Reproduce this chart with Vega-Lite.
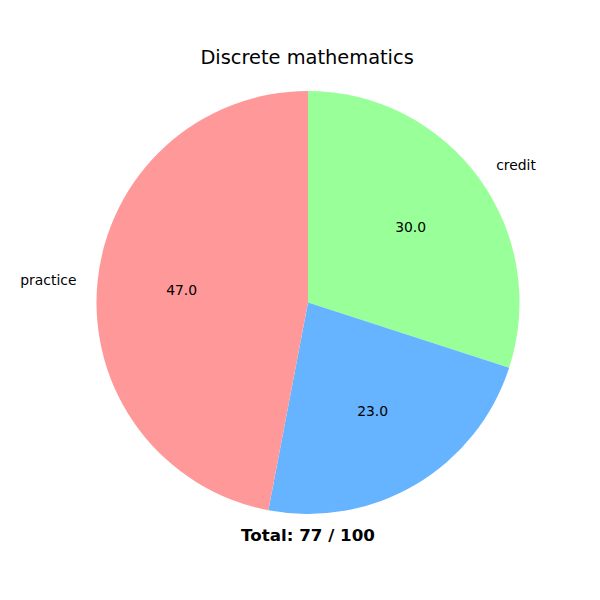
{
  "$schema": "https://vega.github.io/schema/vega-lite/v6.json",
  "padding": {"left": 19.5, "top": 47, "right": 0, "bottom": 0},
  "background": "white",
  "config": {"font": "DejaVu Sans", "view": {"stroke": null}},
  "title": {"text": "Discrete mathematics", "font": "DejaVu Sans", "fontSize": 19.4, "fontWeight": "normal", "color": "black", "anchor": "middle", "offset": 23, "dx": 29},
  "data": {"values": [
    {"key": "credit", "label": "credit", "value": 30, "order": 1},
    {"key": "other", "label": "", "value": 23, "order": 2},
    {"key": "practice", "label": "practice", "value": 47, "order": 3}
  ]},
  "vconcat": [
    {
      "width": 423,
      "height": 423,
      "title": {"text": "Total: 77 / 100", "orient": "bottom", "font": "DejaVu Sans", "fontSize": 16.7, "fontWeight": "bold", "color": "black", "anchor": "middle", "offset": 14},
      "layer": [
        {
          "mark": {"type": "arc", "outerRadius": 211.5},
          "encoding": {
            "theta": {"field": "value", "type": "quantitative", "stack": true},
            "order": {"field": "order", "type": "quantitative"},
            "color": {"field": "key", "type": "nominal", "legend": null,
              "scale": {"domain": ["credit", "other", "practice"], "range": ["#99ff99", "#66b3ff", "#ff9999"]}}
          }
        },
        {
          "mark": {"type": "text", "radius": 126.9, "fontSize": 13.9, "color": "black", "align": "center", "baseline": "middle"},
          "encoding": {
            "theta": {"field": "value", "type": "quantitative", "stack": true},
            "order": {"field": "order", "type": "quantitative"},
            "text": {"field": "value", "type": "quantitative", "format": ".1f"}
          }
        },
        {
          "mark": {"type": "text", "radius": 232.6, "fontSize": 13.9, "color": "black", "align": "right", "baseline": "middle"},
          "encoding": {
            "theta": {"field": "value", "type": "quantitative", "stack": true},
            "order": {"field": "order", "type": "quantitative"},
            "text": {"condition": {"test": "datum.key === 'practice'", "field": "label"}, "value": ""}
          }
        },
        {
          "mark": {"type": "text", "radius": 232.6, "fontSize": 13.9, "color": "black", "align": "left", "baseline": "middle"},
          "encoding": {
            "theta": {"field": "value", "type": "quantitative", "stack": true},
            "order": {"field": "order", "type": "quantitative"},
            "text": {"condition": {"test": "datum.key === 'credit'", "field": "label"}, "value": ""}
          }
        }
      ]
    }
  ]
}
